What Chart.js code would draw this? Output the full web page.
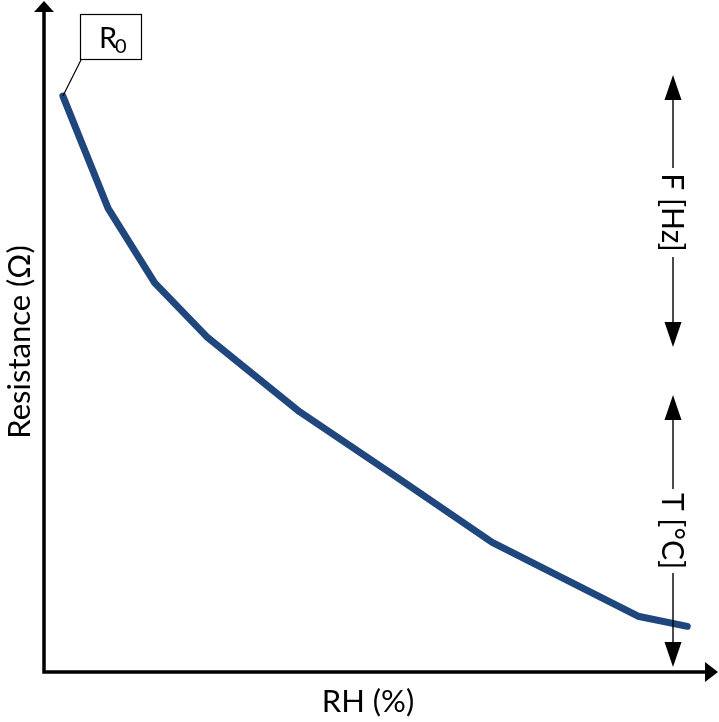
<!DOCTYPE html>
<html>
<head>
<meta charset="utf-8">
<script src="https://cdn.jsdelivr.net/npm/chart.js@4"></script>
<style>
    html, body { margin: 0; padding: 0; background: #fff; }
    #wrap { width: 719px; height: 722px; }
</style>
</head>
<body>
<div id="wrap"><canvas id="chart" width="719" height="722"></canvas></div>
<script>
// RH (%) and resistance (arbitrary units, 0-100)
const rh = [2.8, 9.5, 16.4, 24.1, 37.9, 52.4, 66.4, 88.0, 95.3];
const resistance = [85.7, 69.0, 57.9, 49.9, 38.7, 28.9, 19.3, 8.3, 6.8];

const xTitle = "RH (%)";
const yTitle = "Resistance (Ω)";
const startLabel = ["R", "0"];
const freqLabel = "F [Hz]";
const tempLabel = "T [°C]";

const FONT = "Lato, 'Noto Sans', sans-serif";
const LINE_COLOR = "#1F477D";

function arrowHead(ctx, x, y, dx, dy, len, half) {
    // tip at (x, y), pointing along (dx, dy)
    const bx = x - dx * len, by = y - dy * len;
    ctx.beginPath();
    ctx.moveTo(x, y);
    ctx.lineTo(bx - dy * half, by + dx * half);
    ctx.lineTo(bx + dy * half, by - dx * half);
    ctx.closePath();
    ctx.fill();
}

// vertical double arrow with a rotated label in a gap
function labelledArrow(ctx, x, top, bottom, gapTop, gapBottom, text) {
    ctx.save();
    ctx.strokeStyle = "#000";
    ctx.fillStyle = "#000";
    ctx.lineWidth = 1.4;
    ctx.beginPath();
    ctx.moveTo(x, top + 20);
    ctx.lineTo(x, gapTop);
    ctx.moveTo(x, gapBottom);
    ctx.lineTo(x, bottom - 20);
    ctx.stroke();
    arrowHead(ctx, x, top, 0, -1, 25, 8.5);
    arrowHead(ctx, x, bottom, 0, 1, 25, 8.5);
    ctx.translate(x, (gapTop + gapBottom) / 2);
    ctx.rotate(Math.PI / 2);
    ctx.font = "30px " + FONT;
    ctx.textAlign = "center";
    ctx.textBaseline = "middle";
    ctx.fillText(text, 0, 1);
    ctx.restore();
}

const decorations = {
    id: "decorations",
    afterDraw(chart) {
        const ctx = chart.ctx;
        const area = chart.chartArea;
        const xs = chart.scales.x, ys = chart.scales.y;
        const ox = area.left, oy = area.bottom;

        ctx.save();
        // axes with arrow heads
        ctx.strokeStyle = "#000";
        ctx.fillStyle = "#000";
        ctx.lineWidth = 3.5;
        ctx.beginPath();
        ctx.moveTo(ox, 8);
        ctx.lineTo(ox, oy);
        ctx.lineTo(chart.width - 8, oy);
        ctx.stroke();
        arrowHead(ctx, ox, 1, 0, -1, 11, 10);
        arrowHead(ctx, chart.width - 1, oy, 1, 0, 13, 10);

        // axis titles
        ctx.font = "31px " + FONT;
        ctx.textAlign = "center";
        ctx.textBaseline = "middle";
        ctx.fillText(xTitle, 368, oy + 30);
        ctx.save();
        ctx.translate(20, 342);
        ctx.rotate(-Math.PI / 2);
        ctx.fillText(yTitle, 0, 0);
        ctx.restore();

        // R0 callout linked to the first point
        const px = xs.getPixelForValue(rh[0]);
        const py = ys.getPixelForValue(resistance[0]);
        ctx.lineWidth = 1.2;
        ctx.strokeRect(80.5, 14.5, 61, 45);
        ctx.beginPath();
        ctx.moveTo(81, 60);
        ctx.lineTo(px, py);
        ctx.stroke();
        ctx.textAlign = "left";
        ctx.textBaseline = "alphabetic";
        ctx.font = "29px " + FONT;
        ctx.fillText(startLabel[0], 99, 48);
        ctx.font = "20px " + FONT;
        ctx.fillText(startLabel[1], 115, 53);
        ctx.restore();

        // frequency and temperature arrows
        labelledArrow(ctx, 673, 75, 347, 168, 257, freqLabel);
        labelledArrow(ctx, 673, 395, 667, 489, 573, tempLabel);
    }
};

new Chart(document.getElementById("chart"), {
    type: "line",
    data: {
        datasets: [{
            data: rh.map((v, i) => ({ x: v, y: resistance[i] })),
            borderColor: LINE_COLOR,
            borderWidth: 7,
            borderCapStyle: "round",
            borderJoinStyle: "round",
            pointRadius: 0,
            tension: 0,
            clip: false,
        }],
    },
    options: {
        responsive: false,
        animation: false,
        events: [],
        layout: { padding: { left: 44, right: 0, top: 0, bottom: 50 } },
        plugins: { legend: { display: false }, tooltip: { enabled: false } },
        scales: {
            x: { type: "linear", min: 0, max: 100, display: false },
            y: { type: "linear", min: 0, max: 100, display: false },
        },
    },
    plugins: [decorations],
});
</script>
</body>
</html>
